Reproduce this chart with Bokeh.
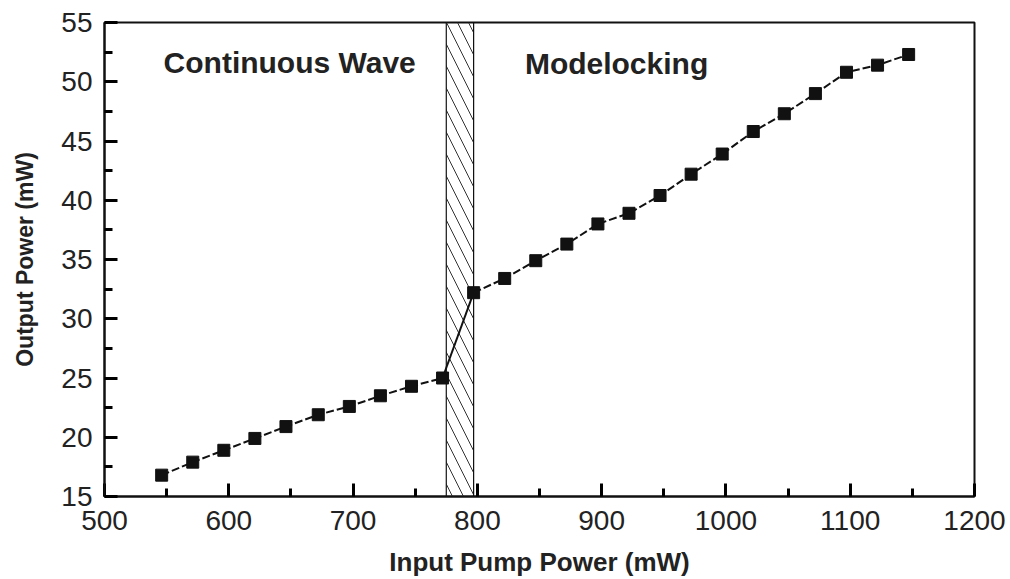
from bokeh.plotting import figure
from bokeh.models import Range1d, FixedTicker
from bokeh.core.properties import value
from bokeh.embed import file_html
from bokeh.resources import INLINE

# Input pump power (mW) and laser output power (mW)
pump_cw = [546, 571, 596, 621, 646, 672, 697, 722, 747, 772]
out_cw = [16.8, 17.9, 18.9, 19.9, 20.9, 21.9, 22.6, 23.5, 24.3, 25.0]

pump_ml = [797, 822, 847, 872, 897, 922, 947, 972, 997, 1022, 1047, 1072, 1097, 1122, 1147]
out_ml = [32.2, 33.4, 34.9, 36.3, 38.0, 38.9, 40.4, 42.2, 43.9, 45.8, 47.3, 49.0, 50.8, 51.4, 52.3]

# Transition region between CW and modelocked operation
transition_start = 775
transition_end = 797

regime_labels = ["Continuous Wave", "Modelocking"]
regime_label_x = [649, 912]
regime_label_y = [51.6, 51.5]

x_min, x_max = 500, 1200
y_min, y_max = 15, 55
x_ticks = [500, 600, 700, 800, 900, 1000, 1100, 1200]
x_minor = [550, 650, 750, 850, 950, 1050, 1150]
y_ticks = [15, 20, 25, 30, 35, 40, 45, 50, 55]
y_minor = [17.5, 22.5, 27.5, 32.5, 37.5, 42.5, 47.5, 52.5]

FONT = "Liberation Sans"
INK = "#222222"
LINE = "#111111"

p = figure(width=1010, height=579, output_backend="svg", toolbar_location=None,
           x_range=Range1d(x_min, x_max), y_range=Range1d(y_min, y_max),
           min_border_left=104, min_border_right=36, min_border_top=22,
           min_border_bottom=82)

p.background_fill_color = "white"
p.border_fill_color = "white"
p.grid.visible = False
p.outline_line_color = LINE
p.outline_line_width = 2

# Hatched transition band
p.quad(left=[transition_start], right=[transition_end], bottom=[y_min], top=[y_max],
       fill_color=None, line_color=LINE, line_width=1.2,
       hatch_pattern="\\", hatch_color="#333333", hatch_scale=22, hatch_weight=1)

# Dashed curves inside each regime
p.line(pump_cw, out_cw, line_color=LINE, line_width=2, line_dash="8 3")
p.line(pump_ml, out_ml, line_color=LINE, line_width=2, line_dash="8 3")
# Solid jump across the transition
p.line([pump_cw[-1], pump_ml[0]], [out_cw[-1], out_ml[0]], line_color=LINE, line_width=2)

p.scatter(pump_cw + pump_ml, out_cw + out_ml, marker="square", size=12,
          fill_color=LINE, line_color=LINE)

p.text(x=regime_label_x, y=regime_label_y, text=regime_labels,
       text_font=value(FONT), text_font_style="bold", text_font_size="30px",
       text_color=INK, text_align="center", text_baseline="middle")

# Inward ticks on the bottom and left axes
for ax in (p.xaxis[0], p.yaxis[0]):
    ax.axis_line_color = LINE
    ax.axis_line_width = 2
    ax.major_tick_line_color = "#000000"
    ax.major_tick_line_width = 3
    ax.minor_tick_line_color = "#000000"
    ax.minor_tick_line_width = 3
    ax.major_tick_in = 13
    ax.major_tick_out = 0
    ax.minor_tick_in = 8
    ax.minor_tick_out = 0
    ax.major_label_text_font = FONT
    ax.major_label_text_font_size = "28px"
    ax.major_label_text_color = INK
    ax.axis_label_text_font = FONT
    ax.axis_label_text_font_style = "bold"
    ax.axis_label_text_color = INK

p.xaxis.ticker = FixedTicker(ticks=x_ticks, minor_ticks=x_minor)
p.yaxis.ticker = FixedTicker(ticks=y_ticks, minor_ticks=y_minor)

p.xaxis.axis_label = "Input Pump Power (mW)"
p.xaxis.axis_label_text_font_size = "26px"
p.xaxis.major_label_standoff = 14
p.xaxis.axis_label_standoff = 14

p.yaxis.axis_label = "Output Power (mW)"
p.yaxis.axis_label_text_font_size = "23px"
p.yaxis.major_label_standoff = 12
p.yaxis.axis_label_standoff = 20

open("out.html", "w").write(file_html(p, INLINE))
